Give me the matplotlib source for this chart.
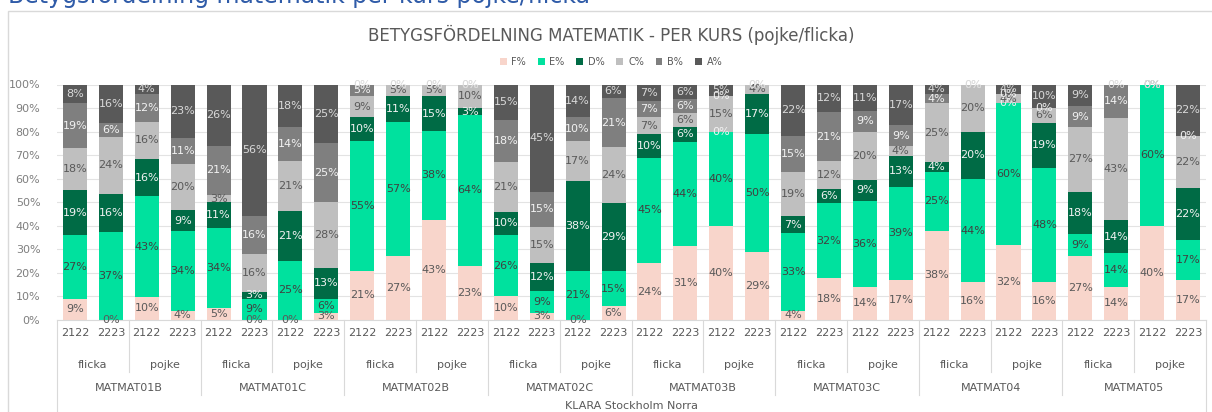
import matplotlib
matplotlib.use('Agg')
import matplotlib.pyplot as plt
import matplotlib.transforms as mtransforms
from matplotlib.patches import Rectangle
import numpy as np

courses = ['MATMAT01B', 'MATMAT01C', 'MATMAT02B', 'MATMAT02C',
           'MATMAT03B', 'MATMAT03C', 'MATMAT04', 'MATMAT05']
genders = ['flicka', 'pojke']
years = ['2122', '2223']
grades = ['F%', 'E%', 'D%', 'C%', 'B%', 'A%']

# one row per bar (course > gender > year), columns F E D C B A
f_vals = [9, 0, 10, 4,   5, 0, 0, 3,    21, 27, 43, 23,  10, 3, 0, 6,
          24, 31, 40, 29, 4, 18, 14, 17,  38, 16, 32, 16,  27, 14, 40, 17]
e_vals = [27, 37, 43, 34, 34, 9, 25, 6,  55, 57, 38, 64,  26, 9, 21, 15,
          45, 44, 40, 50, 33, 32, 36, 39, 25, 44, 60, 48,  9, 14, 60, 17]
d_vals = [19, 16, 16, 9,  11, 3, 21, 13, 10, 11, 15, 3,   10, 12, 38, 29,
          10, 6, 0, 17,   7, 6, 9, 13,    4, 20, 0, 19,    18, 14, 0, 22]
c_vals = [18, 24, 16, 20, 3, 16, 21, 28, 9, 5, 5, 10,     21, 15, 17, 24,
          7, 6, 15, 4,    19, 12, 20, 4,  25, 20, 4, 6,    27, 43, 0, 22]
b_vals = [19, 6, 12, 11,  21, 16, 14, 25, 5, 0, 0, 0,     18, 15, 10, 21,
          7, 6, 0, 0,     15, 21, 9, 9,   4, 0, 0, 0,      9, 14, 0, 0]
a_vals = [8, 16, 4, 23,   26, 56, 18, 25, 0, 0, 0, 0,     15, 45, 14, 6,
          7, 6, 5, 0,     22, 12, 11, 17, 4, 0, 4, 10,     9, 0, 0, 22]

colors = ['#F8D5CB', '#00E19E', '#006B45', '#BFBFBF', '#7F7F7F', '#595959']
label_colors = ['#595959', '#404040', '#F2F2F2', '#595959', '#F2F2F2', '#D9D9D9']

data = np.array([f_vals, e_vals, d_vals, c_vals, b_vals, a_vals], dtype=float)
heights = data / data.sum(axis=0) * 100  # 100% stacked
n = data.shape[1]
x = np.arange(n)

fig = plt.figure(figsize=(12.12, 4.12), dpi=100)
ax = fig.add_axes([57 / 1212, 92 / 412, 1149 / 1212, 235.5 / 412])

# chart frame
fig.patches.append(Rectangle((8 / 1212, -0.01), 1.0, (412 - 11) / 412 + 0.01,
                             transform=fig.transFigure, fill=False,
                             edgecolor='#D9D9D9', linewidth=1))

# cut-off heading above the chart
fig.text(8 / 1212, 1 - 3 / 412, 'Betygsfördelning matematik per kurs pojke/flicka',
         color='#2F5BA8', fontsize=17, ha='left', va='baseline')

bottom = np.zeros(n)
for i, g in enumerate(grades):
    ax.bar(x, heights[i], 0.67, bottom=bottom, color=colors[i], label=g, zorder=2)
    for j in range(n):
        ax.text(x[j], bottom[j] + heights[i][j] / 2, '%d%%' % data[i][j],
                ha='center', va='center', fontsize=8, color=label_colors[i], zorder=3)
    bottom += heights[i]

ax.set_xlim(-0.5, n - 0.5)
ax.set_ylim(0, 100)
ax.set_yticks(np.arange(0, 101, 10))
ax.set_yticklabels(['%d%%' % v for v in range(0, 101, 10)], fontsize=8, color='#7F7F7F')
ax.grid(axis='y', color='#E3E3E3', linewidth=0.8, zorder=0)
ax.set_xticks([])
ax.tick_params(axis='y', length=0, pad=12)
for s in ['top', 'right', 'left']:
    ax.spines[s].set_visible(False)
ax.spines['bottom'].set_color('#D9D9D9')

# multi-level category axis
trans = mtransforms.blended_transform_factory(ax.transData, ax.transAxes)
for j in range(n):
    ax.text(x[j], -0.055, years[j % 2], transform=trans, ha='center', va='center',
            fontsize=8, color='#595959')
for k in range(n // 2):
    ax.text(2 * k + 0.5, -0.19, genders[k % 2], transform=trans, ha='center',
            va='center', fontsize=8, color='#595959')
for k in range(len(courses)):
    ax.text(4 * k + 1.5, -0.29, courses[k], transform=trans, ha='center',
            va='center', fontsize=8, color='#595959')
ax.text(-0.5 + n / 2, -0.365, 'KLARA Stockholm Norra', transform=trans,
        ha='center', va='center', fontsize=8, color='#595959')

for k in range(n // 2 + 1):
    xb = 2 * k - 0.5
    if k == 0 or k == n // 2:
        y_end = -0.40
    elif k % 2 == 0:
        y_end = -0.32
    else:
        y_end = -0.22
    ax.plot([xb, xb], [0, y_end], transform=trans, color='#D9D9D9',
            linewidth=0.8, clip_on=False)

fig.text(611 / 1212, 1 - 35 / 412, 'BETYGSFÖRDELNING MATEMATIK - PER KURS (pojke/flicka)',
         ha='center', va='center', fontsize=12, color='#595959')

handles, labels = ax.get_legend_handles_labels()
fig.legend(handles, labels, loc='center', bbox_to_anchor=(611 / 1212, 1 - 62 / 412),
           ncol=6, frameon=False, fontsize=7, handlelength=0.7, handleheight=0.7,
           columnspacing=1.2, handletextpad=0.5, labelcolor='#595959')

fig.savefig('out.png', dpi=100)
